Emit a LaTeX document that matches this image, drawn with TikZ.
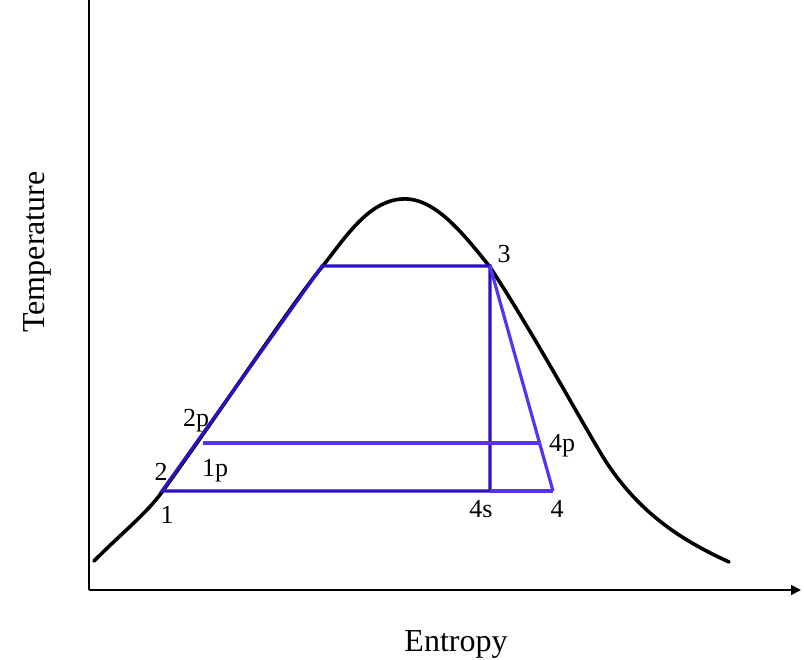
\documentclass[tikz,border=0pt]{standalone}
\definecolor{CycleDark}{HTML}{2B10C4}
\definecolor{CycleLight}{HTML}{5A30F2}
\usepackage{fontspec}
\setmainfont{Liberation Serif}
\usepackage{tikz}
\usetikzlibrary{arrows.meta,positioning,calc}
\tikzset{
    % Axis lines
    axisline/.style={
        draw=black,
        line width=1.8pt
    },
    axisarrow/.style={
        axisline,
        -{Triangle[length=10pt,width=10pt]}
    },
    % Saturation dome
    dome/.style={
        draw=black,
        line width=3.6pt,
        line cap=round,
        line join=round
    },
    % Cycle lines
    cycledark/.style={
        draw=CycleDark,
        line width=3.2pt,
        line join=miter
    },
    cyclelight/.style={
        draw=CycleLight,
        line width=3.2pt,
        line join=miter
    },
    statelabel/.style={
        inner sep=0pt,
        anchor=base,
        font=\fontsize{26}{30}\selectfont
    },
    axislabel/.style={
        inner sep=0pt,
        anchor=base,
        font=\fontsize{32}{38}\selectfont
    }
}

\begin{document}
\begin{tikzpicture}[x=1pt, y=-1pt]
            \useasboundingbox (0,0) rectangle (804,660);

            % Axes
            \coordinate (origin) at (89,590);
            \coordinate (ytop) at (89,0);
            \coordinate (xend) at (801,590);
            \draw[axisline] (origin) -- (ytop);
            \draw[axisarrow] (origin) -- (xend);

            % Axis titles
            \node[axislabel] (entropy) at (456,651) {Entropy};
            \node[axislabel, rotate=90] (temperature) at (45,252) {Temperature};

            % Saturation dome
            \draw[dome] (94,561) .. controls (125,530) and (146,514) .. (162,492)
                .. controls (218,415) and (290,306) .. (322,267)
                .. controls (345,238) and (368,201) .. (402,199)
                .. controls (434,197) and (462,232) .. (490,267)
                .. controls (530,328) and (575,410) .. (600,452)
                .. controls (638,516) and (688,543) .. (729,562);

            % Cycle state points
            \coordinate (s1) at (162,491);
            \coordinate (sf) at (322,266);
            \coordinate (s3) at (490,266);
            \coordinate (s4s) at (490,491);
            \coordinate (s4) at (553,491);
            \coordinate (s1p) at (203,443);
            \coordinate (s4p) at (541,443);

            % Ideal cycle
            \draw[cycledark] (s1) -- (sf) -- (s3) -- (s4s) -- cycle;

            % Real expansion and raised condensing line
            \draw[cyclelight] (s4s) -- (s4);
            \draw[cyclelight] (s3) -- (s4);
            \draw[cyclelight] (s1p) -- (s4p);

            % State labels
            \node[statelabel] (l1) at (167,523) {1};
            \node[statelabel] (l2) at (161,480) {2};
            \node[statelabel] (l2p) at (196,427) {2p};
            \node[statelabel] (l1p) at (215,476) {1p};
            \node[statelabel] (l3) at (504,263) {3};
            \node[statelabel] (l4p) at (562,452) {4p};
            \node[statelabel] (l4s) at (481,518) {4s};
            \node[statelabel] (l4) at (557,518) {4};
        \end{tikzpicture}
\end{document}
